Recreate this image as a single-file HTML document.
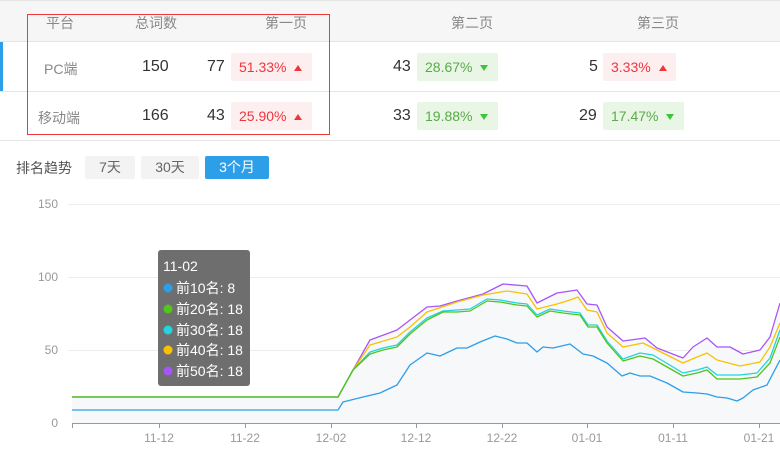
<!DOCTYPE html>
<html><head><meta charset="utf-8"><style>
*{margin:0;padding:0;box-sizing:border-box}
body{width:780px;height:461px;background:#fff;font-family:"Liberation Sans","Noto Sans CJK SC",sans-serif;position:relative;overflow:hidden}
.a{position:absolute;white-space:nowrap}
.h{color:#888;font-size:14px}
.n{color:#333;font-size:16px}
.badge{position:absolute;height:28px;line-height:28px;font-size:14px;padding-left:8px;border-radius:2px}
.up{background:#fdeff0;color:#f0353d}
.dn{background:#e9f6e5;color:#5aaa4a}
.tu{display:inline-block;width:0;height:0;border-left:4px solid transparent;border-right:4px solid transparent;border-bottom:6px solid #f0353d;margin-left:8px;vertical-align:1px}
.td{display:inline-block;width:0;height:0;border-left:4px solid transparent;border-right:4px solid transparent;border-top:6px solid #3cc43c;margin-left:8px;vertical-align:1px}
</style></head><body>
<div class="a" style="left:0;top:0;width:780px;height:42px;background:#f6f6f6;border-top:1px solid #e5e5e5;border-bottom:1px solid #e5e5e5"></div>
<div class="a" style="left:0;top:91px;width:780px;height:1px;background:#e5e5e5"></div>
<div class="a" style="left:0;top:140px;width:780px;height:1px;background:#e5e5e5"></div>
<div class="a" style="left:0;top:42px;width:3px;height:49px;background:#2d9fe8"></div>
<div class="a" style="left:27px;top:14px;width:303px;height:121px;border:1px solid #f03a3a"></div>
<div class="a h" style="left:46px;top:13px">平台</div>
<div class="a h" style="left:135px;top:13px">总词数</div>
<div class="a h" style="left:265px;top:13px">第一页</div>
<div class="a h" style="left:451px;top:13px">第二页</div>
<div class="a h" style="left:637px;top:13px">第三页</div>
<div class="a h" style="left:44px;top:59px">PC端</div>
<div class="a h" style="left:38px;top:108px">移动端</div>
<div class="a n" style="left:142px;top:58px">150</div>
<div class="a n" style="left:142px;top:107px">166</div>
<div class="a n" style="left:207px;top:58px">77</div>
<div class="a n" style="left:207px;top:107px">43</div>
<div class="badge up" style="left:231px;top:53px;width:81px">51.33%<span class="tu"></span></div>
<div class="badge up" style="left:231px;top:102px;width:81px">25.90%<span class="tu"></span></div>
<div class="a n" style="left:393px;top:58px">43</div>
<div class="a n" style="left:393px;top:107px">33</div>
<div class="badge dn" style="left:417px;top:53px;width:81px">28.67%<span class="td"></span></div>
<div class="badge dn" style="left:417px;top:102px;width:81px">19.88%<span class="td"></span></div>
<div class="a n" style="left:589px;top:58px">5</div>
<div class="a n" style="left:579px;top:107px">29</div>
<div class="badge up" style="left:603px;top:53px;width:73px">3.33%<span class="tu"></span></div>
<div class="badge dn" style="left:603px;top:102px;width:81px">17.47%<span class="td"></span></div>
<div class="a" style="left:16px;top:158px;font-size:14px;color:#555">排名趋势</div>
<div class="a" style="left:85px;top:156px;width:50px;height:23px;background:#f3f3f3;border-radius:2px;color:#666;font-size:14px;text-align:center;line-height:23px">7天</div>
<div class="a" style="left:141px;top:156px;width:58px;height:23px;background:#f3f3f3;border-radius:2px;color:#666;font-size:14px;text-align:center;line-height:23px">30天</div>
<div class="a" style="left:205px;top:156px;width:64px;height:23px;background:#2d9fe8;border-radius:2px;color:#fff;font-size:14px;text-align:center;line-height:23px">3个月</div>
<svg class="a" style="left:0;top:0" width="780" height="461" font-family="Liberation Sans" font-size="12" fill="#999">
<g stroke="#ececec" stroke-width="1"><line x1="68" y1="204.5" x2="780" y2="204.5"/><line x1="68" y1="277.5" x2="780" y2="277.5"/><line x1="68" y1="350.5" x2="780" y2="350.5"/></g>
<text x="58" y="208" text-anchor="end">150</text><text x="58" y="281" text-anchor="end">100</text><text x="58" y="354" text-anchor="end">50</text><text x="58" y="427" text-anchor="end">0</text>
<path d="M72,397 L338,397 L353,370 L370,340 L397,330 L410,320 L427,307 L440,306 L457,301 L483,294 L503,284 L527,286 L537,303 L557,293 L577,290 L587,304 L597,305 L607,327 L623,341 L645,338 L657,348 L683,358 L693,347 L707,338 L717,347 L730,347 L743,354 L760,350 L770,337 L780,303 L780,423 L72,423Z" fill="#f6f8fa"/>
<g fill="none" stroke-width="1.3" stroke-linejoin="round">
<path stroke="#a855f7" d="M72,397 L338,397 L353,370 L370,340 L397,330 L410,320 L427,307 L440,306 L457,301 L483,294 L503,284 L527,286 L537,303 L557,293 L577,290 L587,304 L597,305 L607,327 L623,341 L645,338 L657,348 L683,358 L693,347 L707,338 L717,347 L730,347 L743,354 L760,350 L770,337 L780,303"/>
<path stroke="#f9c100" d="M72,397 L338,397 L353,370 L370,345 L397,337 L410,327 L427,312 L457,302 L483,295 L507,291 L527,294 L537,309 L557,304 L570,300 L578,297 L587,310 L597,312 L607,333 L623,347 L643,343 L683,363 L697,357 L707,353 L717,360 L740,366 L760,362 L770,347 L780,323"/>
<path stroke="#22d3e0" d="M72,397 L338,397 L353,370 L370,352 L383,348 L397,345 L410,332 L427,318 L443,311 L457,310 L470,309 L487,299 L500,300 L517,303 L527,304 L537,315 L550,309 L563,311 L580,313 L588,325 L597,325 L607,341 L623,359 L640,353 L653,355 L683,373 L697,370 L707,367 L717,375 L740,375 L757,373 L770,358 L780,330"/>
<path stroke="#52c41a" d="M72,397 L338,397 L353,370 L370,354 L383,350 L397,347 L410,334 L427,320 L443,312 L457,312 L470,311 L487,301 L500,302 L517,305 L527,306 L537,317 L550,311 L563,313 L580,315 L588,327 L597,327 L607,343 L623,361 L640,356 L653,359 L683,376 L697,373 L707,370 L717,379 L740,379 L757,377 L770,363 L780,337"/>
<path stroke="#2d9fe8" d="M72,410 L338,410 L343,402 L363,397 L380,393 L397,385 L410,365 L427,353 L440,356 L457,348 L467,348 L480,342 L495,336 L507,339 L517,343 L527,343 L537,352 L543,347 L553,348 L570,344 L583,354 L593,356 L607,363 L622,376 L630,373 L640,376 L650,376 L667,383 L683,392 L697,393 L707,394 L717,397 L727,398 L737,401 L743,398 L753,390 L767,385 L780,360"/>
</g>
<line x1="72" y1="423.5" x2="780" y2="423.5" stroke="#999"/>
<g stroke="#999"><line x1="72.5" y1="423" x2="72.5" y2="428"/><line x1="159.5" y1="423" x2="159.5" y2="428"/><line x1="245.5" y1="423" x2="245.5" y2="428"/><line x1="331.5" y1="423" x2="331.5" y2="428"/><line x1="416.5" y1="423" x2="416.5" y2="428"/><line x1="502.5" y1="423" x2="502.5" y2="428"/><line x1="587.5" y1="423" x2="587.5" y2="428"/><line x1="673.5" y1="423" x2="673.5" y2="428"/><line x1="759.5" y1="423" x2="759.5" y2="428"/></g>
<g text-anchor="middle"><text x="159" y="442">11-12</text><text x="245" y="442">11-22</text><text x="331" y="442">12-02</text><text x="416" y="442">12-12</text><text x="502" y="442">12-22</text><text x="587" y="442">01-01</text><text x="673" y="442">01-11</text><text x="759" y="442">01-21</text></g>
<rect x="158" y="250" width="92" height="136" rx="3" fill="#6e6e6e"/>
<g fill="#fff" font-size="14" font-family="Liberation Sans, Noto Sans CJK SC, sans-serif">
<text x="163" y="271">11-02</text>
<circle cx="168" cy="288" r="4.5" fill="#2d9fe8"/><text x="176" y="293">前10名: 8</text>
<circle cx="168" cy="309" r="4.5" fill="#52c41a"/><text x="176" y="314">前20名: 18</text>
<circle cx="168" cy="330" r="4.5" fill="#22d3e0"/><text x="176" y="335">前30名: 18</text>
<circle cx="168" cy="350" r="4.5" fill="#f9c100"/><text x="176" y="355">前40名: 18</text>
<circle cx="168" cy="371" r="4.5" fill="#a855f7"/><text x="176" y="376">前50名: 18</text>
</g>
</svg>
</body></html>
